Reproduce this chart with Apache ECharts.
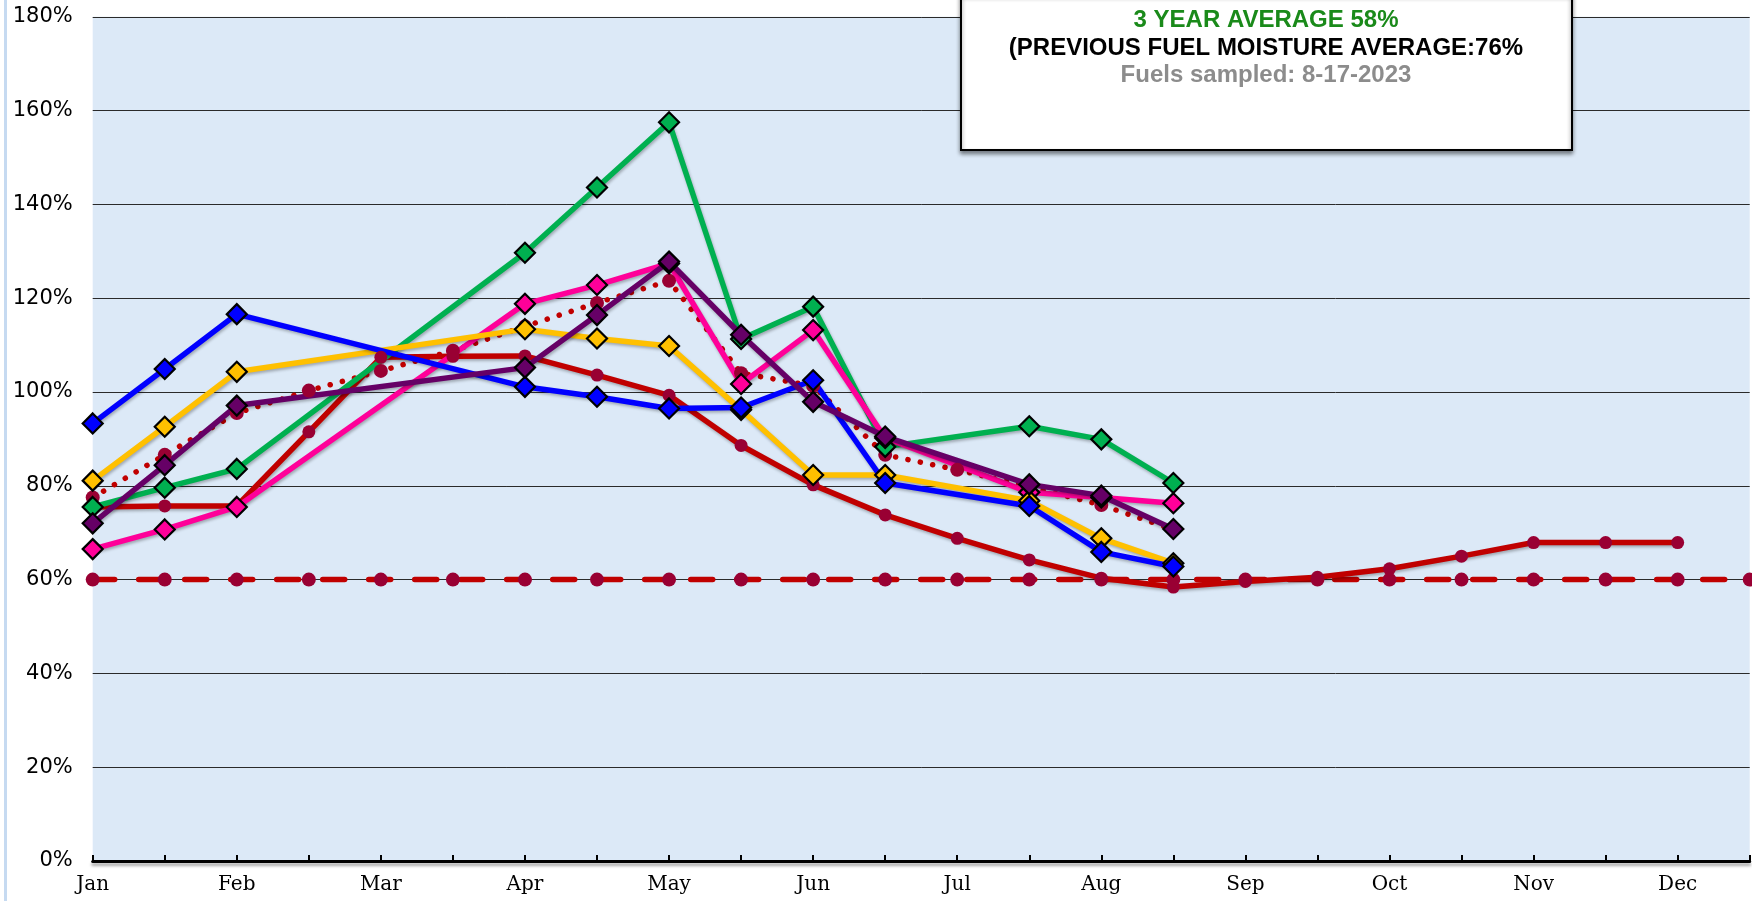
<!DOCTYPE html>
<html>
<head>
<meta charset="utf-8">
<script src="https://cdn.jsdelivr.net/npm/echarts@6/dist/echarts.min.js"></script>
<style>
  html, body { margin: 0; padding: 0; background: #ffffff; }
  #chart { width: 1752px; height: 901px; }
</style>
</head>
<body>
<div id="chart"></div>
<script>
// Half-month categories (label shown on every month)
const categories = ['Jan','Jan 15','Feb','Feb 15','Mar','Mar 15','Apr','Apr 15','May','May 15','Jun','Jun 15',
                    'Jul','Jul 15','Aug','Aug 15','Sep','Sep 15','Oct','Oct 15','Nov','Nov 15','Dec','Dec 15'];
const yTicks = [0, 20, 40, 60, 80, 100, 120, 140, 160, 180];

// Series values (percent fuel moisture)
const thresholdLine = [60,60,60,60,60,60,60,60,60,60,60,60,60,60,60,60,60,60,60,60,60,60,60,60];
const redSeries     = [75.5,75.7,75.7,91.5,107.4,107.6,107.7,103.6,99.3,88.6,80.2,73.8,68.8,64.2,60.3,58.4,59.6,60.5,62.3,65,67.9,67.9,67.9,null];
const dottedSeries  = [77.5,86.6,95.5,100.3,104.5,108.8,114,119,123.7,104,101.3,86.6,83.4,79.8,75.9,70.7];
const greenSeries   = [75.5,79.6,83.6,null,null,null,129.7,143.6,157.5,111.3,118.2,88.3,null,92.7,89.9,80.6];
const pinkSeries    = [66.5,70.7,75.5,null,null,null,118.8,122.8,127.4,101.7,113.2,90.2,null,78.6,77.5,76.3];
const yellowSeries  = [81.1,92.6,104.3,null,null,null,113.4,111.4,109.8,96.2,82.3,82.3,null,76.8,68.8,63.5];
const blueSeries    = [93.3,104.9,116.6,null,null,null,101.1,99,96.5,96.7,102.5,80.6,null,75.7,65.9,62.8];
const purpleSeries  = [72,84.4,97.1,null,null,null,105.2,116.4,127.8,112.2,97.9,90.5,null,80.3,77.9,70.8];

const titleLines = ['3 YEAR AVERAGE 58%', '(PREVIOUS FUEL MOISTURE AVERAGE:76%', 'Fuels sampled: 8-17-2023'];

const lineShadow = { shadowColor: 'rgba(0,0,0,0.28)', shadowBlur: 3, shadowOffsetX: 1, shadowOffsetY: 2 };

function diamondSeries(name, data, color) {
  return {
    name: name, type: 'line', data: data, connectNulls: true,
    symbol: 'diamond', symbolSize: 20, showSymbol: true,
    lineStyle: Object.assign({ color: color, width: 5.5 }, lineShadow),
    itemStyle: { color: color, borderColor: '#000000', borderWidth: 2.2 },
    emphasis: { disabled: true }
  };
}

const chart = echarts.init(document.getElementById('chart'), null, { renderer: 'canvas' });
chart.setOption({
  animation: false,
  backgroundColor: '#ffffff',
  grid: {
    left: 92.7, right: 2.3, top: 16.8, bottom: 40,
    show: true, backgroundColor: '#dce9f7', borderWidth: 0
  },
  xAxis: {
    type: 'category', data: categories, boundaryGap: false,
    axisLine: { show: true, lineStyle: { color: '#000', width: 3, shadowColor: 'rgba(0,0,0,0.35)', shadowBlur: 3, shadowOffsetY: 3 } },
    axisTick: { show: true, inside: true, length: 6, interval: 0, lineStyle: { color: '#000', width: 2 } },
    axisLabel: { interval: 1, margin: 14, color: '#000', fontFamily: 'DejaVu Serif', fontSize: 20 },
    splitLine: { show: false }
  },
  yAxis: {
    type: 'value', min: yTicks[0], max: yTicks[yTicks.length - 1], interval: 20,
    axisLine: { show: false }, axisTick: { show: false },
    axisLabel: { formatter: '{value}%', margin: 20, color: '#000', fontFamily: 'DejaVu Sans', fontSize: 21 },
    splitLine: { show: true, lineStyle: { color: '#2a2a2a', width: 1 } }
  },
  series: [
    {
      name: 'Threshold', type: 'line', data: thresholdLine,
      symbol: 'circle', symbolSize: 14,
      lineStyle: { color: '#c00000', width: 5.5, type: [22, 24], cap: 'round' },
      itemStyle: { color: '#990033' }, emphasis: { disabled: true }
    },
    {
      name: 'Red', type: 'line', data: redSeries, connectNulls: false,
      symbol: 'circle', symbolSize: 13,
      lineStyle: Object.assign({ color: '#c00000', width: 5.5 }, lineShadow),
      itemStyle: { color: '#990033' }, emphasis: { disabled: true }
    },
    {
      name: 'Average', type: 'line', data: dottedSeries,
      symbol: 'circle', symbolSize: 14,
      lineStyle: { color: '#c00000', width: 5.5, type: [0.1, 12.5], cap: 'round' },
      itemStyle: { color: '#990033' }, emphasis: { disabled: true }
    },
    diamondSeries('Green', greenSeries, '#00b050'),
    diamondSeries('Pink', pinkSeries, '#ff0099'),
    diamondSeries('Yellow', yellowSeries, '#ffc000'),
    diamondSeries('Blue', blueSeries, '#0000ff'),
    diamondSeries('Purple', purpleSeries, '#660066')
  ],
  graphic: [
    { type: 'line', shape: { x1: 5.5, y1: 0, x2: 5.5, y2: 901 }, style: { stroke: '#c6daf1', lineWidth: 3 }, z: 1 },
    {
      type: 'rect', z: 100,
      shape: { x: 961, y: -6, width: 611, height: 156 },
      style: { fill: '#ffffff', stroke: '#000000', lineWidth: 2, shadowColor: 'rgba(0,0,0,0.45)', shadowBlur: 4, shadowOffsetY: 3 }
    },
    { type: 'text', z: 101, x: 1266, y: 20.5,
      style: { text: titleLines[0], fill: '#1a8a1a', font: 'bold 24px "Liberation Sans", Arial, sans-serif', align: 'center', verticalAlign: 'middle' } },
    { type: 'text', z: 101, x: 1266, y: 48,
      style: { text: titleLines[1], fill: '#000000', font: 'bold 24px "Liberation Sans", Arial, sans-serif', align: 'center', verticalAlign: 'middle' } },
    { type: 'text', z: 101, x: 1266, y: 75.5,
      style: { text: titleLines[2], fill: '#8c8c8c', font: 'bold 24px "Liberation Sans", Arial, sans-serif', align: 'center', verticalAlign: 'middle' } }
  ]
});
</script>
</body>
</html>
